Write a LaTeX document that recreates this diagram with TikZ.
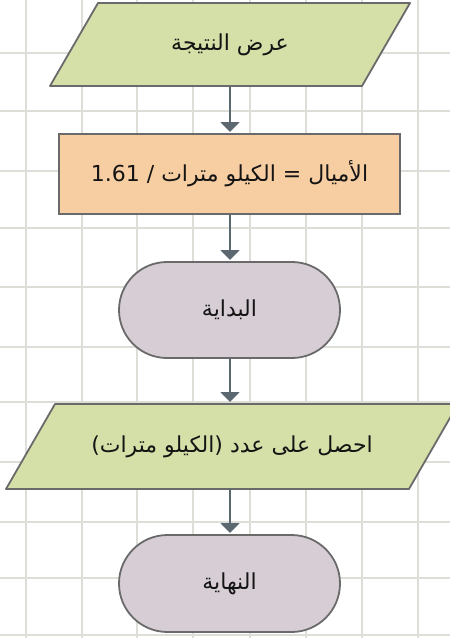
\documentclass[tikz,border=0pt]{standalone}
\usepackage{fontspec}
\usetikzlibrary{shapes.misc,arrows.meta,backgrounds}
\TeXXeTstate=1
\newfontfamily\arabicfont[Script=Arabic]{DejaVu Sans}
\definecolor{gridc}{HTML}{DEDED9}
\definecolor{edgec}{HTML}{6A6A6A}
\definecolor{arrc}{HTML}{5C6870}
\definecolor{greenf}{HTML}{D5DFA8}
\definecolor{peachf}{HTML}{F6CEA2}
\definecolor{mauvef}{HTML}{D7CED5}
\tikzset{
  base/.style={line width=1.8pt, inner sep=0pt, outer sep=0pt, font=\arabicfont\fontsize{22}{26}\selectfont, text=black!92},
  iobox/.style={base, rectangle},
  ioshape/.style={draw=edgec, fill=greenf, line width=1.8pt, line join=round},
  procbox/.style={base, draw=edgec, rectangle, fill=peachf},
  termbox/.style={base, draw=edgec, rounded rectangle, fill=mauvef},
  gridline/.style={gridc, line width=1.8pt},
  flow/.style={draw=arrc, line width=1.9pt, -{Triangle[width=19pt,length=10pt]}, shorten >=2pt},
}
\begin{document}
\begin{tikzpicture}[x=1pt,y=-1pt]
\useasboundingbox (0,0) rectangle (450,638);
\clip (0,0) rectangle (450,638);

\node[iobox, minimum width=312pt, minimum height=83pt] (show) at (230,44.5) {\beginR عرض النتيجة\endR};
\node[procbox, minimum width=341pt, minimum height=80pt] (calc) at (229.5,174) {\beginR الأميال = الكيلو مترات / \beginL 1.61\endL\endR};
\node[termbox, minimum width=221pt, minimum height=96pt] (start) at (229.5,310) {\beginR البداية\endR};
\node[iobox, minimum width=403pt, minimum height=85pt] (input) at (232,446.5) {\beginR احصل على عدد (الكيلو مترات)\endR};
\node[termbox, minimum width=221pt, minimum height=97pt] (stop) at (229.5,583.5) {\beginR النهاية\endR};

\begin{scope}[on background layer]
\foreach \gx in {26,82,137,193,250,306,362,418}
  \draw[gridline] (\gx,0) -- (\gx,638);
\foreach \gy in {53,111,171,228,287,347,402,462,522,578,635}
  \draw[gridline] (0,\gy) -- (450,\gy);
\draw[ioshape] ([xshift=-24pt]show.south west) -- ([xshift=24pt]show.north west)
  -- ([xshift=24pt]show.north east) -- ([xshift=-24pt]show.south east) -- cycle;
\draw[ioshape] ([xshift=-24.5pt]input.south west) -- ([xshift=24.5pt]input.north west)
  -- ([xshift=24.5pt]input.north east) -- ([xshift=-24.5pt]input.south east) -- cycle;
\end{scope}

\draw[flow] (show.south -| 230,0) -- (calc.north -| 230,0);
\draw[flow] (calc.south -| 230,0) -- (start.north -| 230,0);
\draw[flow] (start.south -| 230,0) -- (input.north -| 230,0);
\draw[flow] (input.south -| 230,0) -- (stop.north -| 230,0);
\end{tikzpicture}
\end{document}
